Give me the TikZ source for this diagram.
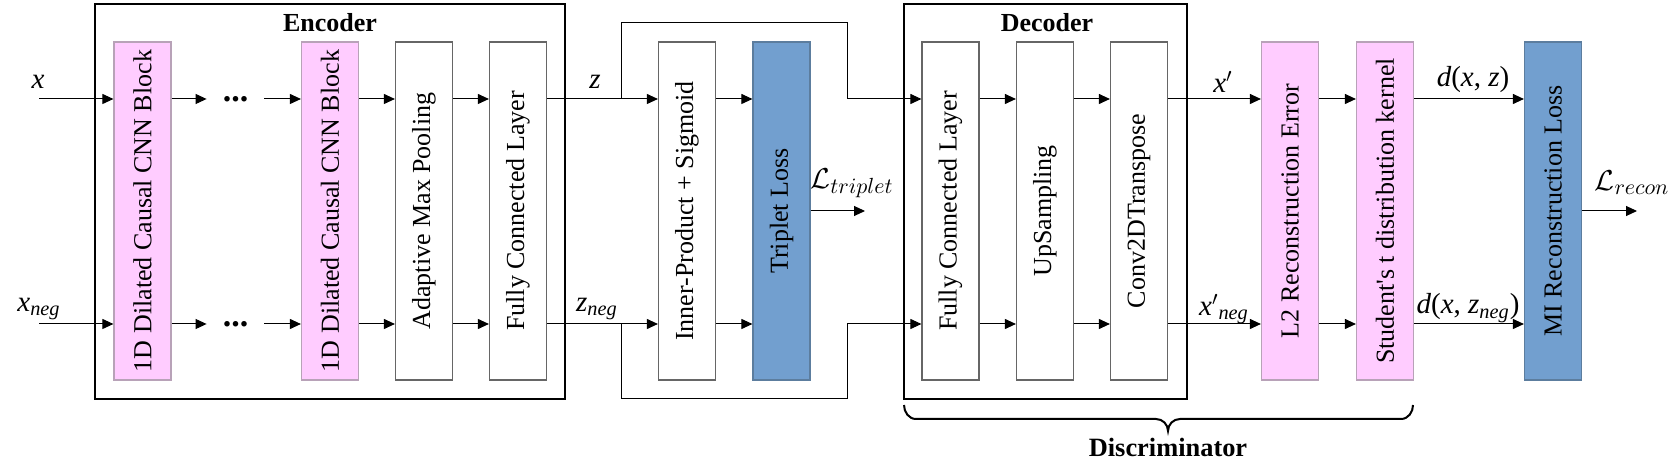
\documentclass[tikz,border=0pt]{standalone}
\usepackage{graphicx}
\usepackage{fontspec}
\setmainfont{Liberation Serif}
\usetikzlibrary{arrows.meta}
\definecolor{pinkfill}{HTML}{FFCCFF}
\definecolor{pinkdraw}{HTML}{B8A2B8}
\definecolor{bluefill}{HTML}{729FCF}
\definecolor{bluedraw}{HTML}{5C7D9E}
\definecolor{graydraw}{HTML}{666666}
\begin{document}
\begin{tikzpicture}[x=0.5pt,y=-0.5pt,
  box/.style={minimum width=28.5pt, minimum height=169pt, inner sep=0pt, line width=0.6pt, font=\fontsize{13}{15}\selectfont},
  wbox/.style={box, draw=graydraw, fill=white},
  pbox/.style={box, draw=pinkdraw, fill=pinkfill},
  bbox/.style={box, draw=bluedraw, fill=bluefill},
  frame/.style={draw=black, line width=1pt},
  arr/.style={-{Triangle[length=5.5pt,width=5pt]}, line width=0.5pt},
  lbl/.style={font=\fontsize{14.5}{16}\selectfont, inner sep=0pt},
  loss/.style={font=\fontsize{15.5}{17}\selectfont, inner sep=0pt},
  title/.style={font=\bfseries\fontsize{13}{15}\selectfont, inner sep=0pt},
  dotsn/.style={minimum width=28.5pt, inner sep=0pt, font=\bfseries\fontsize{17}{18}\selectfont}
]
\useasboundingbox (0,0) rectangle (1673,474);
\coordinate (ra) at (0,99);
\coordinate (rb) at (0,324);

% frames
\draw[frame] (95,4) rectangle (565,399);
\node[title] (enctitle) at (330,23) {Encoder};
\draw[frame] (904,4) rectangle (1187,399);
\node[title] (dectitle) at (1047,23) {Decoder};

% boxes
\node[pbox] (b1) at (142.5,211) {\rotatebox{90}{1D Dilated Causal CNN Block}};
\node[pbox] (b2) at (330,211) {\rotatebox{90}{1D Dilated Causal CNN Block}};
\node[wbox] (amp) at (424,211) {\rotatebox{90}{Adaptive Max Pooling}};
\node[wbox] (fc1) at (518,211) {\rotatebox{90}{Fully Connected Layer}};
\node[wbox] (ip) at (687,211) {\rotatebox{90}{Inner-Product + Sigmoid}};
\node[bbox] (tl) at (781.5,211) {\rotatebox{90}{Triplet Loss}};
\node[wbox] (fc2) at (950.5,211) {\rotatebox{90}{Fully Connected Layer}};
\node[wbox] (up) at (1045,211) {\rotatebox{90}{UpSampling}};
\node[wbox] (ct) at (1139,211) {\rotatebox{90}{Conv2DTranspose}};
\node[pbox] (l2) at (1290,211) {\rotatebox{90}{L2 Reconstruction Error}};
\node[pbox] (st) at (1385,211) {\rotatebox{90}{Student\textquotesingle s t distribution kernel}};
\node[bbox] (mi) at (1553,211) {\rotatebox{90}{MI Reconstruction Loss}};

% dots
\node[dotsn] (d1) at (235.5,99) {...};
\node[dotsn] (d2) at (235.5,324) {...};

% inputs
\coordinate (xin) at (39,99);
\coordinate (xnin) at (39,324);
\draw[arr] (xin) -- (b1.west |- ra);
\draw[arr] (xnin) -- (b1.west |- rb);
\draw[arr] (b1.east |- ra) -- (d1.west);
\draw[arr] (b1.east |- rb) -- (d2.west);
\draw[arr] (d1.east) -- (b2.west |- ra);
\draw[arr] (d2.east) -- (b2.west |- rb);

\foreach \a/\b in {b2/amp, amp/fc1, fc1/ip, ip/tl, fc2/up, up/ct, ct/l2, l2/st, st/mi} {
  \draw[arr] (\a.east |- ra) -- (\b.west |- ra);
  \draw[arr] (\a.east |- rb) -- (\b.west |- rb);
}

% bypass around triplet branch
\coordinate (za) at (621,99);
\coordinate (zna) at (621,324);
\coordinate (ta) at (847,23);
\coordinate (tb) at (847,399);
\draw[arr] (za) |- (ta) -- (ta |- ra) -- (fc2.west |- ra);
\draw[arr] (zna) |- (tb) -- (tb |- rb) -- (fc2.west |- rb);

% loss outputs
\coordinate (lt) at (865,211);
\coordinate (lr) at (1637,211);
\draw[arr] (tl.east) -- (lt);
\draw[arr] (mi.east) -- (lr);

% labels
\node[lbl] (lx) at (38,82) {\textit{x}};
\node[lbl] (lxn) at (39,309) {\textit{x}\textsubscript{\textit{neg}}};
\node[lbl] (lz) at (595,82) {\textit{z}};
\node[lbl] (lzn) at (597,309) {\textit{z}\textsubscript{\textit{neg}}};
\node[lbl] (lxp) at (1223,82) {\textit{x}$'$};
\node[lbl] (lxpn) at (1224,309) {\textit{x}$'$\textsubscript{\textit{neg}}};
\node[lbl] (ldz) at (1473,80) {\textit{d}(\textit{x}, \textit{z})};
\node[lbl] (ldzn) at (1468,308) {\textit{d}(\textit{x}, \textit{z}\textsubscript{\textit{neg}})};
\node[loss] (llt) at (852,183) {$\mathcal{L}_{triplet}$};
\node[loss] (llr) at (1632,183) {$\mathcal{L}_{recon}$};

% brace
\draw[line width=1pt] (904,405) to[out=-90,in=180] (916,419) -- (1156,419)
  to[out=0,in=90] (1168,431) to[out=90,in=180] (1180,419) -- (1401,419)
  to[out=0,in=-90] (1413,405);
\node[title, font=\bfseries\fontsize{13.2}{15}\selectfont] (disc) at (1168,447) {Discriminator};
\end{tikzpicture}
\end{document}
